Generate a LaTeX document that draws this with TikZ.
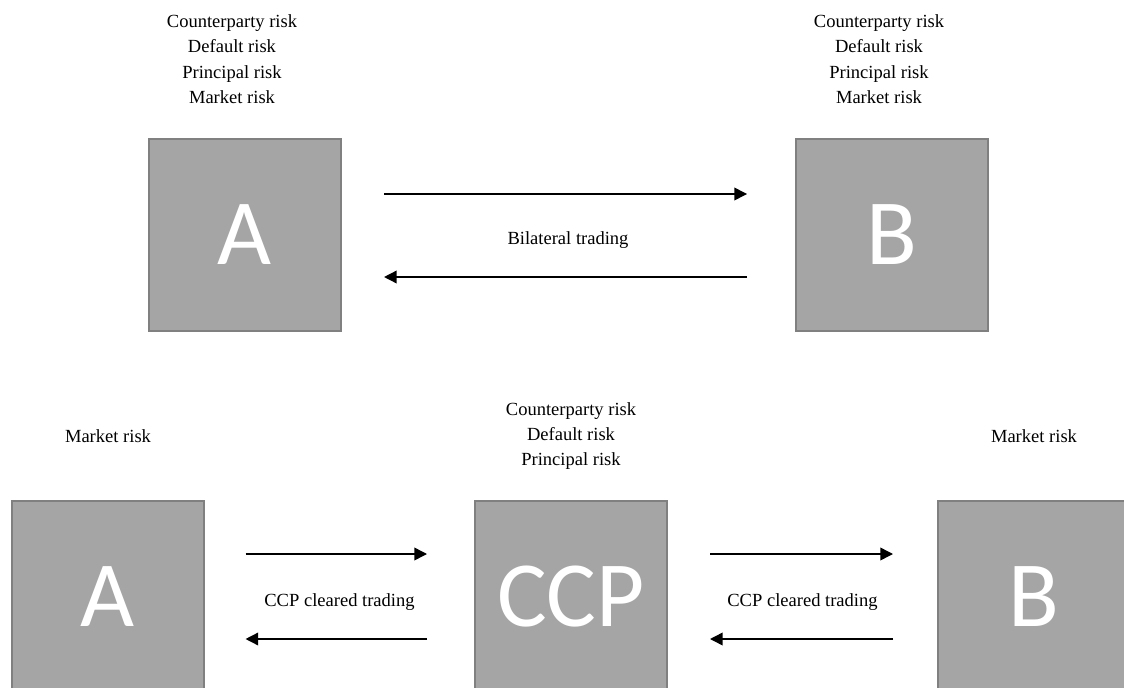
\documentclass[tikz,border=0pt]{standalone}
\usepackage{fontspec}
\setmainfont{Liberation Serif}
\newfontfamily\riskfont{Liberation Serif}
\newfontfamily\boxfont{Carlito}
\usetikzlibrary{arrows.meta,calc,positioning}
\definecolor{partyfill}{HTML}{A5A5A5}
\definecolor{partyline}{HTML}{808080}
\begin{document}
\begin{tikzpicture}[x = 0.75pt, y = -0.75pt,
  party/.style = {draw = partyline, fill = partyfill, line width = 1.5pt, minimum size = 144pt, inner sep = 0pt, text = white, font = \boxfont\fontsize{70}{84}\selectfont},
  risk/.style = {align = center, inner sep = 0pt, font = \riskfont\fontsize{13.9}{19}\selectfont},
  trade/.style = {risk, yshift = -3.5pt},
  flow/.style = {-{Triangle[length = 9.5pt, width = 9.5pt]}, line width = 1.1pt}]
\useasboundingbox (0,0) rectangle (1124,688);
\clip (0,0) rectangle (1124,688);
\node[party] at (244.5,235) (topA) {A};
\node[party] at (891.5,235) (topB) {B};
\node[risk] at (232,59) (riskA) {Counterparty risk\\Default risk\\Principal risk\\Market risk};
\node[risk] at (879,59) (riskB) {Counterparty risk\\Default risk\\Principal risk\\Market risk};
\node[trade] at ($(topA.east)!0.5!(topB.west)$) (bilateral) {Bilateral trading};
\draw[flow, shorten < = 31.9pt, shorten > = 35.6pt] ([yshift = 30.75pt]topA.east) -- ([yshift = 30.75pt]topB.west);
\draw[flow, shorten < = 35.6pt, shorten > = 31.9pt] ([yshift = -31.5pt]topB.west) -- ([yshift = -31.5pt]topA.east);
\node[party] at (108,597) (botA) {A};
\node[party] at (571,597) (ccp) {CCP};
\node[party] at (1034,597) (botB) {B};
\node[risk] at (108,436) (marketA) {Market risk};
\node[risk] at (571,436) (riskCCP) {Counterparty risk\\Default risk\\Principal risk};
\node[risk] at (1034,436) (marketB) {Market risk};
\node[trade] at ($(botA.east)!0.5!(ccp.west)$) (clearedA) {CCP cleared trading};
\node[trade] at ($(ccp.east)!0.5!(botB.west)$) (clearedB) {CCP cleared trading};
\draw[flow, shorten < = 30.4pt, shorten > = 35.25pt] ([yshift = 32.25pt]botA.east) -- ([yshift = 32.25pt]ccp.west);
\draw[flow, shorten < = 35.25pt, shorten > = 30.4pt] ([yshift = -31.5pt]ccp.west) -- ([yshift = -31.5pt]botA.east);
\draw[flow, shorten < = 31.5pt, shorten > = 33pt] ([yshift = 32.25pt]ccp.east) -- ([yshift = 32.25pt]botB.west);
\draw[flow, shorten < = 33pt, shorten > = 31.5pt] ([yshift = -31.5pt]botB.west) -- ([yshift = -31.5pt]ccp.east);
\end{tikzpicture}
\end{document}
